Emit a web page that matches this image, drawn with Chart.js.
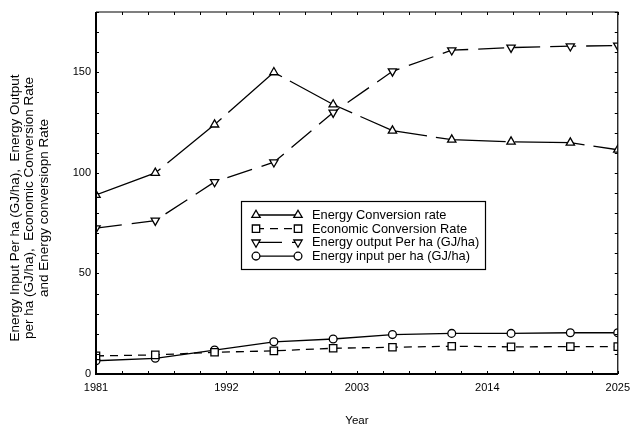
<!DOCTYPE html>
<html>
<head>
<meta charset="utf-8">
<script src="https://cdn.jsdelivr.net/npm/chart.js@4/dist/chart.umd.min.js"></script>
<style>
  html, body { margin: 0; padding: 0; background: #fff; }
  #wrap { width: 637px; height: 425px; }
</style>
</head>
<body>
<div id="wrap"><canvas id="chart" width="637" height="425"></canvas></div>
<script>
const years = [1981, 1986, 1991, 1996, 2001, 2006, 2011, 2016, 2021, 2025]
const energyConversionRate = [89, 100, 124, 150, 134, 121, 116.5, 115.5, 115, 111.5]
const economicConversionRate = [9, 9.5, 10.8, 11.5, 12.8, 13.3, 13.8, 13.5, 13.6, 13.6]
const energyOutput = [72.5, 76.3, 95.5, 105.3, 130, 150.5, 161, 162.3, 163, 163.3]
const energyInput = [6.6, 7.8, 11.9, 16, 17.4, 19.6, 20.2, 20.2, 20.5, 20.5]
const xTicks = [1981, 1992, 2003, 2014, 2025]
const yTicks = [0, 50, 100, 150]
const labels = ['Energy Conversion rate', 'Economic Conversion Rate', 'Energy output Per ha (GJ/ha)', 'Energy input per ha (GJ/ha)']
const yTitle = ['Energy Input Per ha (GJ/ha),  Energy Output', 'per ha (GJ/ha),  Economic Conversion Rate', 'and Energy conversiopn Rate']

const FONT = "Arial, 'Liberation Sans', sans-serif"

const toPoints = vals => years.map((x, i) => ({ x: x, y: vals[i] }))

function makeSet(label, vals, style, rotation, dash, radius) {
  return {
    label: label,
    data: toPoints(vals),
    borderColor: '#000',
    borderWidth: 1.3,
    borderDash: dash,
    pointStyle: style,
    rotation: rotation,
    pointRadius: radius,
    pointBorderWidth: 1.3,
    pointBorderColor: '#000',
    pointBackgroundColor: '#fff',
    tension: 0
  }
}

// box around the plot with small inward ticks on all four sides
const framePlugin = {
  id: 'frame',
  afterDatasetsDraw(chart) {
    const { ctx, chartArea: a, scales } = chart
    const x = scales.x, y = scales.y
    ctx.save()
    ctx.strokeStyle = '#000'
    ctx.setLineDash([])
    ctx.lineWidth = 1.2
    ctx.beginPath()
    ctx.moveTo(a.left, a.top); ctx.lineTo(a.right, a.top); ctx.lineTo(a.right, a.bottom)
    ctx.stroke()
    ctx.lineWidth = 2
    ctx.beginPath()
    ctx.moveTo(a.left, a.top); ctx.lineTo(a.left, a.bottom); ctx.lineTo(a.right, a.bottom)
    ctx.stroke()

    ctx.lineWidth = 1
    ctx.beginPath()
    for (let v = 1981; v <= 2025.01; v += 2.2) {
      const px = Math.round(x.getPixelForValue(v)) + 0.5
      ctx.moveTo(px, a.bottom); ctx.lineTo(px, a.bottom - 3)
      ctx.moveTo(px, a.top); ctx.lineTo(px, a.top + 3)
    }
    for (let v = 0; v <= 180; v += 10) {
      const py = Math.round(y.getPixelForValue(v)) + 0.5
      ctx.moveTo(a.left, py); ctx.lineTo(a.left + 3, py)
      ctx.moveTo(a.right, py); ctx.lineTo(a.right - 3, py)
    }
    ctx.stroke()

    // rotated y axis title, three lines
    ctx.fillStyle = '#000'
    ctx.font = '13.5px ' + FONT
    ctx.textAlign = 'center'
    ctx.textBaseline = 'middle'
    ctx.translate(0, 208)
    ctx.rotate(-Math.PI / 2)
    yTitle.forEach((t, i) => ctx.fillText(t, 0, 15 + i * 14.5))
    ctx.restore()
  }
}

// legend box inside the plot, drawn with each dataset's own style
const boxLegend = {
  id: 'boxLegend',
  afterDraw(chart) {
    const ctx = chart.ctx
    const bx = 241, by = 201, bw = 244, bh = 68
    ctx.save()
    ctx.fillStyle = '#fff'
    ctx.fillRect(bx, by, bw, bh)
    ctx.strokeStyle = '#000'
    ctx.lineWidth = 1.2
    ctx.setLineDash([])
    ctx.strokeRect(bx + 0.5, by + 0.5, bw, bh)
    ctx.font = '12.8px ' + FONT
    ctx.textBaseline = 'middle'
    chart.data.datasets.forEach((ds, i) => {
      const ry = 215 + i * 13.7
      ctx.strokeStyle = '#000'
      ctx.lineWidth = 1.3
      ctx.setLineDash(ds.borderDash)
      ctx.beginPath()
      ctx.moveTo(256, ry); ctx.lineTo(298, ry)
      ctx.stroke()
      ctx.setLineDash([])
      ctx.fillStyle = '#fff'
      const opts = { pointStyle: ds.pointStyle, rotation: ds.rotation, radius: ds.pointRadius, borderWidth: 1.3 }
      Chart.helpers.drawPoint(ctx, opts, 256, ry)
      Chart.helpers.drawPoint(ctx, opts, 298, ry)
      ctx.fillStyle = '#000'
      ctx.fillText(ds.label, 312, ry + 0.5)
    })
    ctx.restore()
  }
}

new Chart(document.getElementById('chart'), {
  type: 'line',
  data: {
    datasets: [
      makeSet(labels[0], energyConversionRate, 'triangle', 0, [70, 9], 4.8),
      makeSet(labels[1], economicConversionRate, 'rect', 0, [8, 6], 5.2),
      makeSet(labels[2], energyOutput, 'triangle', 180, [26, 10], 4.8),
      makeSet(labels[3], energyInput, 'circle', 0, [], 3.9)
    ]
  },
  options: {
    responsive: false,
    animation: false,
    layout: { padding: { top: 12, right: 14, left: 0, bottom: 0 } },
    plugins: { legend: { display: false }, tooltip: { enabled: false } },
    scales: {
      x: {
        type: 'linear',
        min: 1981,
        max: 2025,
        grid: { display: false, drawTicks: false },
        border: { display: false },
        afterBuildTicks: s => { s.ticks = xTicks.map(v => ({ value: v })) },
        afterFit: s => { s.height = 51 },
        ticks: { color: '#000', font: { family: FONT, size: 11 }, padding: 7, maxRotation: 0, callback: v => String(v) },
        title: { display: true, text: 'Year', color: '#000', font: { family: FONT, size: 11.5 }, padding: { top: 0, bottom: -3 } }
      },
      y: {
        min: 0,
        max: 180,
        grid: { display: false, drawTicks: false },
        border: { display: false },
        afterBuildTicks: s => { s.ticks = yTicks.map(v => ({ value: v })) },
        afterFit: s => { s.width = 96 },
        ticks: { color: '#000', font: { family: FONT, size: 11 }, padding: 5 }
      }
    }
  },
  plugins: [framePlugin, boxLegend]
})
</script>
</body>
</html>
